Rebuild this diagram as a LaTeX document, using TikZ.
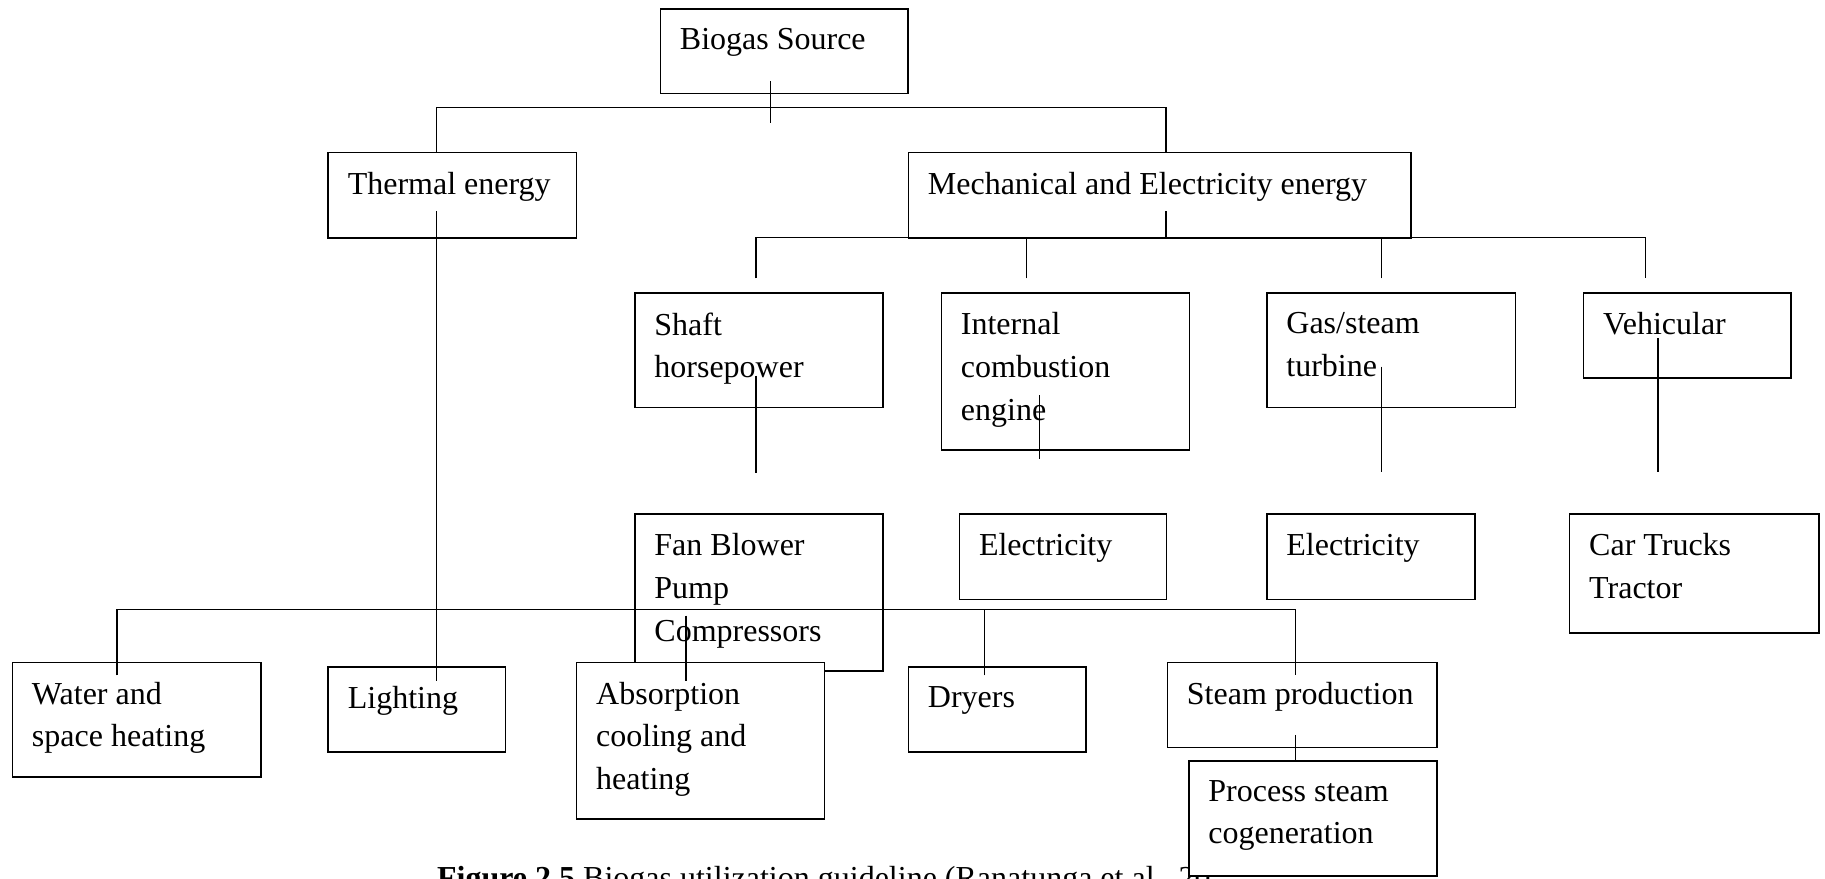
\documentclass[tikz,border=0pt]{standalone}
\usepackage{fontspec}
\setmainfont{Liberation Serif}
\usetikzlibrary{calc}

\begin{document}
\begin{tikzpicture}[x=0.5pt, y=-0.5pt,
  box/.style={draw, fill=white, line width=0.8pt, anchor=north west, inner sep=0pt},
  txt/.style={anchor=north west, align=left, inner sep=0pt, xshift=10pt, yshift=-10pt,
    font=\fontsize{16}{21.3}\selectfont},
  conn/.style={line width=0.6pt}
]
  \useasboundingbox (0,0) rectangle (1825,878);
  \clip (0,0) rectangle (1825,878);

  % caption (partly hidden by the last box)
  \node[anchor=base west, inner sep=0pt, font=\fontsize{16}{21.3}\selectfont] (caption) at (436.7,888)
    {\textbf{Figure 2.5} Biogas utilization guideline (Ranatunga et al., 20};

  % boxes
  \node[box, minimum width=123.9pt, minimum height=42.4pt] (biogas) at (659.5,8) {};
  \node[txt] (biogas-t) at (biogas.north west) {Biogas Source};
  \node[box, minimum width=124.2pt, minimum height=42.6pt] (thermal) at (327.4,151.7) {};
  \node[txt] (thermal-t) at (thermal.north west) {Thermal energy};
  \node[box, minimum width=251.4pt, minimum height=42.6pt] (mech) at (907.5,151.7) {};
  \node[txt] (mech-t) at (mech.north west) {Mechanical and Electricity energy};

  \node[box, minimum width=124.2pt, minimum height=57.2pt] (shaft) at (634,292.3) {};
  \node[txt] (shaft-t) at (shaft.north west) {Shaft\\horsepower};
  \node[box, minimum width=124pt, minimum height=78.4pt] (ice) at (940.5,292.3) {};
  \node[txt] (ice-t) at (ice.north west) {Internal\\combustion\\engine};
  \node[box, minimum width=124.4pt, minimum height=57.2pt] (gas) at (1266,292.3) {};
  \node[txt] (gas-t) at (gas.north west) {Gas/steam\\turbine};
  \node[box, minimum width=103.6pt, minimum height=42.5pt] (vehic) at (1582.8,292.3) {};
  \node[txt] (vehic-t) at (vehic.north west) {Vehicular};

  \node[box, minimum width=124.2pt, minimum height=78.4pt] (fan) at (634,513.3) {};
  \node[txt] (fan-t) at (fan.north west) {Fan Blower\\Pump\\Compressors};
  \node[box, minimum width=103.6pt, minimum height=42.7pt] (elec1) at (958.6,513.3) {};
  \node[txt] (elec1-t) at (elec1.north west) {Electricity};
  \node[box, minimum width=104pt, minimum height=42.7pt] (elec2) at (1266,513.3) {};
  \node[txt] (elec2-t) at (elec2.north west) {Electricity};
  \node[box, minimum width=124.6pt, minimum height=59.4pt] (car) at (1568.8,513.3) {};
  \node[txt] (car-t) at (car.north west) {Car Trucks\\Tractor};

  \node[box, minimum width=124.2pt, minimum height=57.2pt] (water) at (11.6,661.7) {};
  \node[txt] (water-t) at (water.north west) {Water and\\space heating};
  \node[box, minimum width=88.7pt, minimum height=42.6pt] (lighting) at (327.4,666) {};
  \node[txt] (lighting-t) at (lighting.north west) {Lighting};
  \node[box, minimum width=123.9pt, minimum height=78.3pt] (absorb) at (575.8,661.7) {};
  \node[txt] (absorb-t) at (absorb.north west) {Absorption\\cooling and\\heating};
  \node[box, minimum width=88.8pt, minimum height=42.6pt] (dryers) at (907.5,666) {};
  \node[txt] (dryers-t) at (dryers.north west) {Dryers};
  \node[box, minimum width=134.8pt, minimum height=42.5pt] (steam) at (1166.5,661.7) {};
  \node[txt] (steam-t) at (steam.north west) {Steam production};
  \node[box, minimum width=124pt, minimum height=57.5pt] (process) at (1188,760) {};
  \node[txt] (process-t) at (process.north west) {Process steam\\cogeneration};

  % bus ends
  \coordinate (top-l) at (436.5,107.3);
  \coordinate (top-r) at (1165.9,107.3);
  \coordinate (mb1) at (756,278.3);
  \coordinate (mb2) at (1026.7,278.3);
  \coordinate (mb3) at (1381.3,278.3);
  \coordinate (mb4) at (1645.7,278.3);
  \coordinate (lbus) at (0,609.3);
  \coordinate (lb1) at (116.9,675.3);
  \coordinate (lb2) at (984.8,675.3);
  \coordinate (lb3) at (1295.2,675.3);

  % connectors
  \draw[conn] ($(biogas.south)+(-13.9,-13.4)$) -- ++(0,41.7);
  \draw[conn] (thermal.north -| top-l) |- (top-r) -- (mech.north -| top-r);
  \draw[conn] ($(mech.south -| top-r)+(0,-27.3)$) -- (mech.south -| top-r);
  \draw[conn] (mb1) |- ($(mech.south -| mb4)+(0,-1.3)$) -- (mb4);
  \foreach \d in {mb2,mb3}
    \draw[conn] (\d) -- ($(\d |- mech.south)+(0,-1.3)$);

  \draw[conn] ($(thermal.south -| top-l)+(0,-27.3)$) -- ++(0,469.6);
  \draw[conn] ($(shaft.south -| mb1)+(0,-32.7)$) -- ++(0,97.7);
  \draw[conn] ($(ice.south)+(-25.5,-55.7)$) -- ++(0,64);
  \draw[conn] ($(gas.south -| mb3)+(0,-41.7)$) -- ++(0,105.7);
  \draw[conn] ($(vehic.south)+(-29.2,-40.6)$) -- ++(0,134);

  \draw[conn] (lb1) |- (lb3 |- lbus) -- (lb3);
  \draw[conn] (lb2) -- (lb2 |- lbus);
  \draw[conn] ($(fan.south)+(-73,-56)$) -- ++(0,65.3);
  \draw[conn] ($(steam.south -| lb3)+(0,-13.4)$) -- (process.north -| lb3);
\end{tikzpicture}
\end{document}
